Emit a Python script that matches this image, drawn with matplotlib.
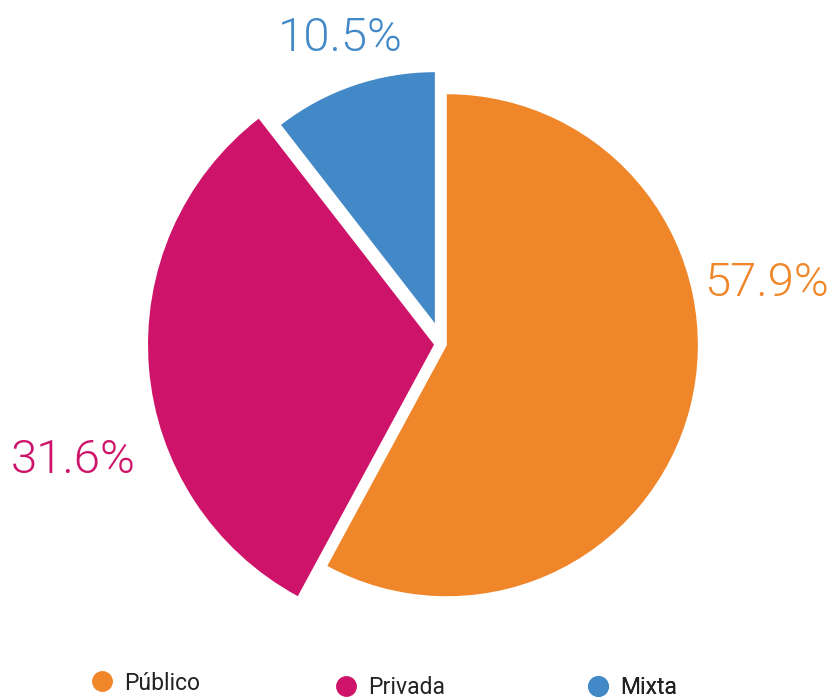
import matplotlib.pyplot as plt
from matplotlib.lines import Line2D

labels = ['Público', 'Privada', 'Mixta']
values = [57.9, 31.6, 10.5]
colors = ['#F0862A', '#CE146A', '#4389C7']

plt.rcParams['font.family'] = ['Roboto', 'DejaVu Sans']

fig = plt.figure(figsize=(8.33, 7), dpi=100)
ax = fig.add_axes([0, 0, 1, 1])

# pixel-like coordinates, y measured upward; explode is in the same units
explode = [5, 8, 22]
wedges, _ = ax.pie(values, colors=colors, startangle=90, counterclock=False,
                   explode=explode, radius=251, center=(442, 356),
                   wedgeprops=dict(linewidth=0))
# the Privada slice is drawn bigger than the others
wedges[1].set_radius(286)

ax.set_xlim(0, 833)
ax.set_ylim(0, 700)
ax.set_aspect('equal')
ax.axis('off')

# percentage labels
label_pos = [(767, 283), (73, 460), (340, 38)]
for v, c, (x, y) in zip(values, colors, label_pos):
    ax.text(x, 700 - y, f'{v}%', color=c, fontsize=34, fontweight=300,
            ha='center', va='center')

# legend, one entry each, slightly staggered like the original
legend_pos = [(91, 683), (335, 688), (587, 688)]
for name, c, (x, y) in zip(labels, colors, legend_pos):
    h = Line2D([], [], marker='o', ls='', ms=14, mfc=c, mec=c)
    leg = ax.legend([h], [name], loc='center left',
                    bbox_to_anchor=(x / 833, 1 - y / 700), frameon=False,
                    fontsize=16.5, borderpad=0, borderaxespad=0,
                    handlelength=1, handletextpad=0.45, labelcolor='#222222')
    ax.add_artist(leg)

fig.savefig('out.png', dpi=100)
